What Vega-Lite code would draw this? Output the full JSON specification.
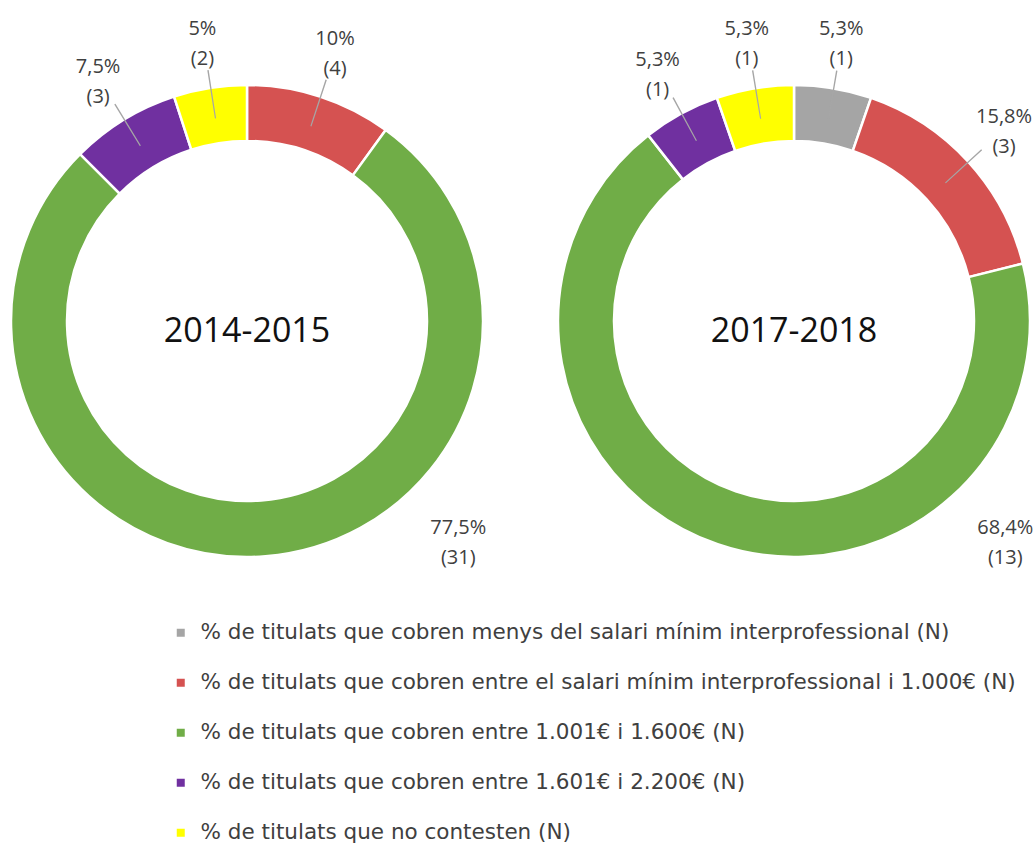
{
  "$schema": "https://vega.github.io/schema/vega-lite/v6.json",
  "background": "white",
  "padding": {"left": 6, "top": 5, "right": 0, "bottom": 0},
  "data": {
    "values": [
      {"year": "2014-2015", "cat": "% de titulats que cobren entre el salari mínim interprofessional i 1.000€ (N)", "order": 2, "pct": 10, "pctLabel": "10%", "n": 4},
      {"year": "2014-2015", "cat": "% de titulats que cobren entre 1.001€ i 1.600€ (N)", "order": 3, "pct": 77.5, "pctLabel": "77,5%", "n": 31},
      {"year": "2014-2015", "cat": "% de titulats que cobren entre 1.601€ i 2.200€ (N)", "order": 4, "pct": 7.5, "pctLabel": "7,5%", "n": 3},
      {"year": "2014-2015", "cat": "% de titulats que no contesten (N)", "order": 5, "pct": 5, "pctLabel": "5%", "n": 2},
      {"year": "2017-2018", "cat": "% de titulats que cobren menys del salari mínim interprofessional (N)", "order": 1, "pct": 5.3, "pctLabel": "5,3%", "n": 1},
      {"year": "2017-2018", "cat": "% de titulats que cobren entre el salari mínim interprofessional i 1.000€ (N)", "order": 2, "pct": 15.8, "pctLabel": "15,8%", "n": 3},
      {"year": "2017-2018", "cat": "% de titulats que cobren entre 1.001€ i 1.600€ (N)", "order": 3, "pct": 68.4, "pctLabel": "68,4%", "n": 13},
      {"year": "2017-2018", "cat": "% de titulats que cobren entre 1.601€ i 2.200€ (N)", "order": 4, "pct": 5.3, "pctLabel": "5,3%", "n": 1},
      {"year": "2017-2018", "cat": "% de titulats que no contesten (N)", "order": 5, "pct": 5.3, "pctLabel": "5,3%", "n": 1}
    ]
  },
  "facet": {
    "column": {"field": "year", "type": "nominal", "sort": ["2014-2015", "2017-2018"], "header": {"title": null, "labels": false}}
  },
  "spacing": 65,
  "spec": {
    "width": 478,
    "height": 632,
    "transform": [
      {"stack": "pct", "groupby": ["year"], "sort": [{"field": "order", "order": "ascending"}], "as": ["s0", "s1"], "offset": "normalize"},
      {"calculate": "(datum.s0 + datum.s1) / 2", "as": "mid"},
      {"calculate": "datum.mid + 0.0009", "as": "mid2"},
      {"calculate": "[datum.pctLabel, '(' + datum.n + ')']", "as": "lab"}
    ],
    "layer": [
      {
        "mark": {"type": "arc", "outerRadius": 236, "innerRadius": 180, "stroke": "white", "strokeWidth": 2.5},
        "encoding": {
          "theta": {"field": "s0", "type": "quantitative", "stack": null, "scale": {"domain": [0, 1], "range": [0, 6.283185]}},
          "theta2": {"field": "s1"},
          "color": {
            "field": "cat", "type": "nominal",
            "scale": {
              "domain": [
                "% de titulats que cobren menys del salari mínim interprofessional (N)",
                "% de titulats que cobren entre el salari mínim interprofessional i 1.000€ (N)",
                "% de titulats que cobren entre 1.001€ i 1.600€ (N)",
                "% de titulats que cobren entre 1.601€ i 2.200€ (N)",
                "% de titulats que no contesten (N)"
              ],
              "range": ["#a5a5a5", "#d55251", "#70ad47", "#7030a0", "#ffff00"]
            },
            "legend": {
              "title": null, "orient": "none", "legendX": 162, "legendY": 617, "direction": "vertical",
              "symbolType": "square", "symbolSize": 64, "symbolStrokeWidth": 0,
              "labelFont": "DejaVu Sans", "labelFontSize": 21.5, "labelColor": "#404040",
              "labelLimit": 1000, "rowPadding": 27, "labelOffset": 9
            }
          }
        }
      },
      {
        "transform": [{"filter": "datum.order != 3"}],
        "mark": {"type": "arc", "outerRadius": 254, "innerRadius": 205, "fill": "#a6a6a6"},
        "encoding": {
          "theta": {"field": "mid", "type": "quantitative", "stack": null},
          "theta2": {"field": "mid2"}
        }
      },
      {
        "transform": [{"filter": "datum.order != 3"}],
        "mark": {"type": "text", "radius": 285, "dy": -11, "font": "Open Sans", "fontSize": 20, "color": "#404040", "align": "center", "baseline": "middle", "lineHeight": 30},
        "encoding": {
          "theta": {"field": "mid", "type": "quantitative", "stack": null},
          "text": {"field": "lab"}
        }
      },
      {
        "transform": [{"filter": "datum.order == 3"}],
        "mark": {"type": "text", "theta": 2.37, "radius": 303, "dy": -10, "font": "Open Sans", "fontSize": 20, "color": "#404040", "align": "center", "baseline": "middle", "lineHeight": 30},
        "encoding": {
          "text": {"field": "lab"}
        }
      },
      {
        "transform": [{"filter": "datum.order == 3"}],
        "mark": {"type": "text", "font": "Open Sans", "fontSize": 34, "color": "#111111", "align": "center", "baseline": "middle", "dy": 11},
        "encoding": {
          "text": {"field": "year"}
        }
      }
    ]
  },
  "config": {"view": {"stroke": null}}
}
